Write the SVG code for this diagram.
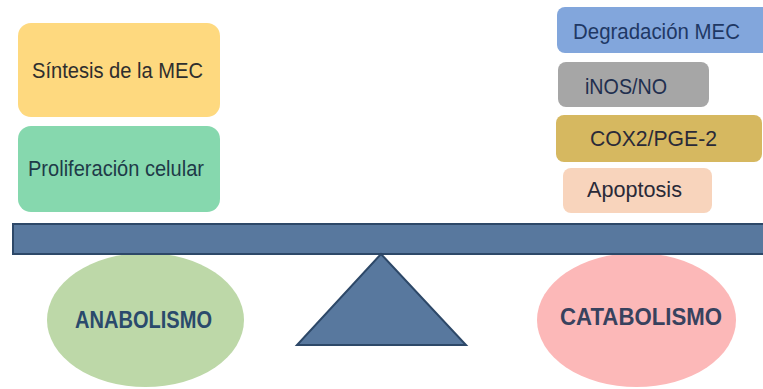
<svg xmlns="http://www.w3.org/2000/svg" width="763" height="389" viewBox="0 0 763 389">
<style>
.lbl{font-family:"Liberation Sans",Arial,sans-serif;font-size:22px;text-anchor:start}
.big{font-family:"Liberation Sans",Arial,sans-serif;font-size:24px;font-weight:bold}
.bar{fill:#58789e;stroke:#2d4868;stroke-width:2}
</style>
<rect width="763" height="389" fill="#ffffff"/>
<g id="sintesis">
<rect x="18" y="23" width="202" height="94" rx="13" fill="#fed97f"/>
<text class="lbl" x="32" y="78" fill="#2e2e2e" textLength="171" lengthAdjust="spacingAndGlyphs">Síntesis de la MEC</text>
</g>
<g id="proliferacion">
<rect x="18" y="126" width="202" height="86" rx="13" fill="#86d8ae"/>
<text class="lbl" x="28" y="176" fill="#1e3a48" textLength="176" lengthAdjust="spacingAndGlyphs">Proliferación celular</text>
</g>
<g id="degradacion">
<rect x="557" y="7" width="216" height="46" rx="8" fill="#82a6dc"/>
<text class="lbl" x="573" y="39" fill="#1f3864" textLength="167" lengthAdjust="spacingAndGlyphs">Degradación MEC</text>
</g>
<g id="inos">
<rect x="558" y="62" width="151" height="45" rx="8" fill="#a6a6a6"/>
<text class="lbl" x="585" y="93.5" fill="#1f2f4f" textLength="82" lengthAdjust="spacingAndGlyphs">iNOS/NO</text>
</g>
<g id="cox2">
<rect x="556" y="115" width="206" height="47" rx="8" fill="#d6b860"/>
<text class="lbl" x="590" y="146" fill="#2a2a38" textLength="127" lengthAdjust="spacingAndGlyphs">COX2/PGE-2</text>
</g>
<g id="apoptosis">
<rect x="563" y="168" width="149" height="45" rx="8" fill="#f8d4bc"/>
<text class="lbl" x="587" y="196.5" fill="#2a2a38" textLength="95" lengthAdjust="spacingAndGlyphs">Apoptosis</text>
</g>
<g id="anabolismo">
<ellipse cx="145.5" cy="320" rx="98.5" ry="67" fill="#bdd8a8"/>
<text class="big" x="75" y="328" fill="#2a4a6c" textLength="137" lengthAdjust="spacingAndGlyphs">ANABOLISMO</text>
</g>
<g id="catabolismo">
<ellipse cx="636.5" cy="320" rx="99.5" ry="67" fill="#fcb8b8"/>
<text class="big" x="560" y="325" fill="#38425e" textLength="162" lengthAdjust="spacingAndGlyphs">CATABOLISMO</text>
</g>
<g id="balanza">
<rect class="bar" x="13" y="224" width="760" height="30"/>
<polygon class="bar" points="381,254 297,345 466,345"/>
</g>
<g id="connectors"></g>
</svg>
